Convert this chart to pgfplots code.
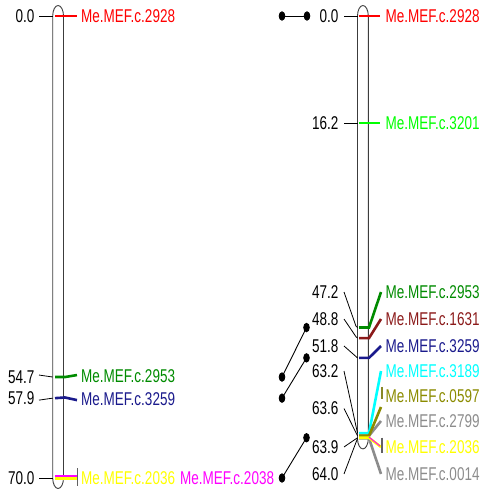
\documentclass[border=0pt]{standalone}
\usepackage{pgfplots}
\pgfplotsset{compat=1.18}
\usepackage{fontspec}
\setmainfont{Liberation Sans}[FakeStretch=0.73]
\definecolor{cRed}{HTML}{FF0000}
\definecolor{cLime}{HTML}{00FF00}
\definecolor{cGreen}{HTML}{008B00}
\definecolor{cBrick}{HTML}{8B1A1A}
\definecolor{cNavy}{HTML}{1A1A8C}
\definecolor{cCyan}{HTML}{00FFFF}
\definecolor{cOlive}{HTML}{8B8B00}
\definecolor{cGray}{HTML}{8C8C8C}
\definecolor{cYellow}{HTML}{FFFF00}
\definecolor{cMag}{HTML}{FF00FF}
\definecolor{cOut}{HTML}{3C3C3C}
\tikzset{lab/.style={font=\fontsize{18.5}{20}\selectfont, inner sep=0pt},
  mk/.style={line width=2.6pt},
  con/.style={black, line width=0.8pt}}
\begin{document}
\begin{tikzpicture}
\begin{axis}[width=483pt,height=491pt,scale only axis,
  xmin=0,xmax=483,ymin=-2.4242,ymax=71.9697,y dir=reverse,
  axis lines=none,ticks=none,clip=false]
% ---------- chromosome outlines ----------
\draw[cOut, line width=0.9pt] (axis cs:52.7,0) -- (axis cs:52.7,70)
  arc[start angle=180,end angle=360,x radius=5.4pt,y radius=10.5pt]
  -- (axis cs:63.5,0)
  arc[start angle=0,end angle=180,x radius=5.4pt,y radius=10.5pt];
\draw[cOut, line width=0.9pt] (axis cs:357.5,0) -- (axis cs:357.5,64)
  arc[start angle=180,end angle=360,x radius=5.4pt,y radius=10.5pt]
  -- (axis cs:368.3,0)
  arc[start angle=0,end angle=180,x radius=5.4pt,y radius=10.5pt];
% ---------- left chromosome ----------
\addplot[con] coordinates {(39,0) (52.7,0)};
\addplot[con] coordinates {(39,54.4) (52.7,54.7)};
\addplot[con] coordinates {(39,58.2) (52.7,57.9)};
\addplot[con] coordinates {(39,70) (52.7,70)};
\addplot[mk,cRed] coordinates {(55,0) (77,0)};
\addplot[mk,cGreen] coordinates {(55,54.7) (65,54.7) (77,54.4)};
\addplot[mk,cNavy] coordinates {(55,57.9) (65,57.8) (77,58.2)};
\addplot[mk,cYellow] coordinates {(55,70.05) (77,70.05)};
\addplot[line width=1.6pt,cMag] coordinates {(55,69.7) (77,69.7)};
\addplot[line width=1.2pt,cGray!70!black] coordinates {(77.5,68.5) (77.5,71.2)};
\node[lab,anchor=east] at (axis cs:34.5,0) {0.0};
\node[lab,anchor=east] at (axis cs:34.5,54.7) {54.7};
\node[lab,anchor=east] at (axis cs:34.5,57.9) {57.9};
\node[lab,anchor=east] at (axis cs:34.5,70) {70.0};
\node[lab,anchor=west,cRed] at (axis cs:81,0) {Me.MEF.c.2928};
\node[lab,anchor=west,cGreen] at (axis cs:81,54.6) {Me.MEF.c.2953};
\node[lab,anchor=west,cNavy] at (axis cs:81,58.0) {Me.MEF.c.3259};
\node[lab,anchor=west,cYellow] at (axis cs:81,70) {Me.MEF.c.2036};
\node[lab,anchor=west,cMag] at (axis cs:180,70) {Me.MEF.c.2038};
% ---------- links between chromosomes ----------
\addplot[black,line width=0.9pt,mark=*,mark size=2.8pt,mark options={fill=black,yscale=1.5}]
  coordinates {(282,0) (307,0)};
\addplot[black,line width=0.9pt,mark=*,mark size=2.8pt,mark options={fill=black,yscale=1.5}]
  coordinates {(282,54.7) (306.5,47.2)};
\addplot[black,line width=0.9pt,mark=*,mark size=2.8pt,mark options={fill=black,yscale=1.5}]
  coordinates {(282,57.9) (306.5,51.8)};
\addplot[black,line width=0.9pt,mark=*,mark size=2.8pt,mark options={fill=black,yscale=1.5}]
  coordinates {(282,70.0) (306.5,63.9)};
% ---------- right chromosome ----------
\addplot[con] coordinates {(344,0) (357.5,0)};
\addplot[con] coordinates {(344,16.2) (357.5,16.2)};
\addplot[con] coordinates {(344,41.82) (356,47.0) (357.5,47.2)};
\addplot[con] coordinates {(344,45.91) (356,48.6) (357.5,48.8)};
\addplot[con] coordinates {(344,50.0) (356,51.6) (357.5,51.8)};
\addplot[con] coordinates {(344,53.79) (357.5,63.2)};
\addplot[con] coordinates {(344,59.47) (357.5,63.6)};
\addplot[con] coordinates {(344,65.30) (357.5,63.9)};
\addplot[con] coordinates {(344,69.39) (357.5,64.0)};
\node[lab,anchor=east] at (axis cs:338.5,0) {0.0};
\node[lab,anchor=east] at (axis cs:338.5,16.2) {16.2};
\node[lab,anchor=east] at (axis cs:338.5,41.82) {47.2};
\node[lab,anchor=east] at (axis cs:338.5,45.91) {48.8};
\node[lab,anchor=east] at (axis cs:338.5,50.0) {51.8};
\node[lab,anchor=east] at (axis cs:338.5,53.79) {63.2};
\node[lab,anchor=east] at (axis cs:338.5,59.47) {63.6};
\node[lab,anchor=east] at (axis cs:338.5,65.30) {63.9};
\node[lab,anchor=east] at (axis cs:338.5,69.39) {64.0};
\addplot[mk,cRed] coordinates {(359,0) (380,0)};
\addplot[mk,cLime] coordinates {(359,16.2) (380,16.2)};
\addplot[mk,cGreen] coordinates {(359,47.2) (369,47.2) (381,41.82)};
\addplot[mk,cBrick] coordinates {(359,48.8) (369,48.8) (381,45.91)};
\addplot[mk,cNavy] coordinates {(359,51.8) (369,51.8) (381,50.0)};
\addplot[mk,cCyan] coordinates {(359,63.2) (369,63.2) (381,53.79)};
\addplot[mk,cGray] coordinates {(359,63.6) (369,63.6) (381,61.36)};
\addplot[mk,cOlive] coordinates {(359,63.6) (369,63.6) (381,59.24)};
\addplot[line width=1.4pt,cOlive!70!gray] coordinates {(382,56.2) (382,58.0)};
\addplot[mk,cGray] coordinates {(359,64.0) (369,64.0) (381,69.39)};
\addplot[mk,cYellow] coordinates {(359,63.9) (369,63.9) (381,65.30)};
\addplot[line width=1.0pt,cMag] coordinates {(369,63.8) (380,65.15)};
\addplot[line width=1.4pt,cGray!70!black] coordinates {(382,63.9) (382,66.2)};
\node[lab,anchor=west,cRed] at (axis cs:385.5,0) {Me.MEF.c.2928};
\node[lab,anchor=west,cLime] at (axis cs:385.5,16.2) {Me.MEF.c.3201};
\node[lab,anchor=west,cGreen] at (axis cs:385.5,41.82) {Me.MEF.c.2953};
\node[lab,anchor=west,cBrick] at (axis cs:385.5,45.91) {Me.MEF.c.1631};
\node[lab,anchor=west,cNavy] at (axis cs:385.5,50.0) {Me.MEF.c.3259};
\node[lab,anchor=west,cCyan] at (axis cs:385.5,53.79) {Me.MEF.c.3189};
\node[lab,anchor=west,cOlive] at (axis cs:385.5,57.58) {Me.MEF.c.0597};
\node[lab,anchor=west,cGray] at (axis cs:385.5,61.36) {Me.MEF.c.2799};
\node[lab,anchor=west,cYellow] at (axis cs:385.5,65.30) {Me.MEF.c.2036};
\node[lab,anchor=west,cGray] at (axis cs:385.5,69.39) {Me.MEF.c.0014};
\end{axis}
\pgfresetboundingbox
\path (0,0) rectangle (483pt,491pt);
\end{tikzpicture}
\end{document}
